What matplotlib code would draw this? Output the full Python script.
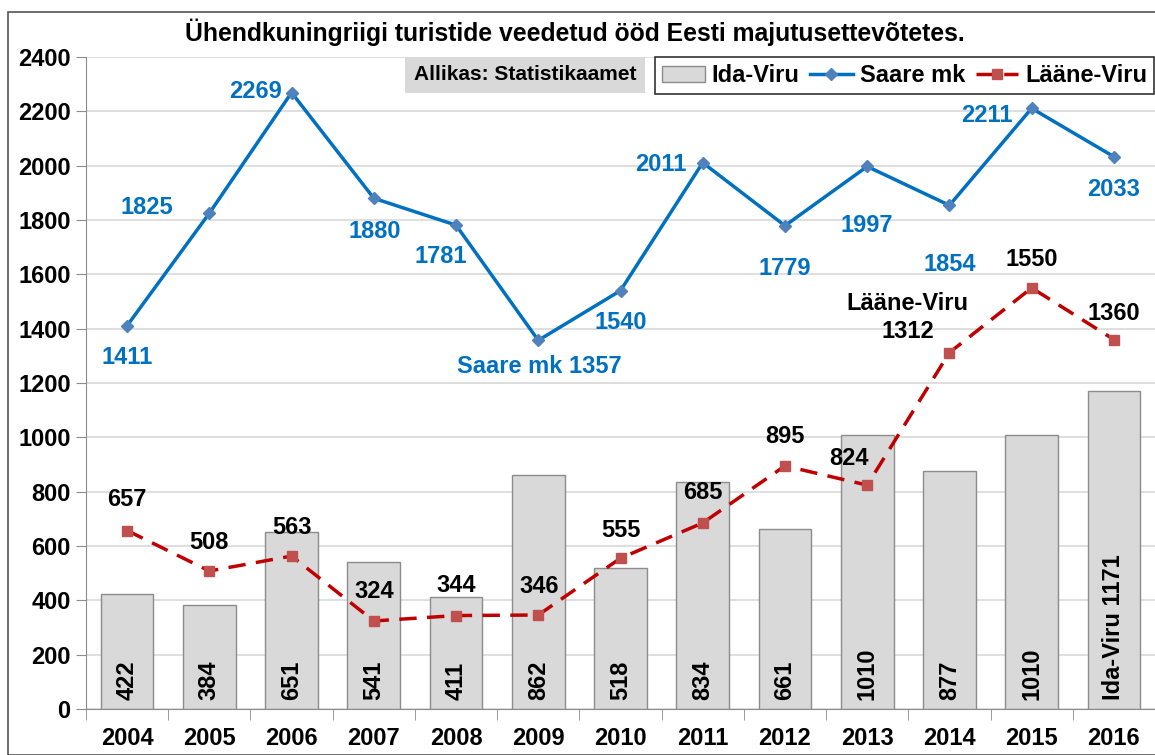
import matplotlib.pyplot as plt
import matplotlib.patches as patches
import numpy as np

plt.rcParams['font.family'] = ['Liberation Sans Narrow', 'Liberation Sans', 'DejaVu Sans']
plt.rcParams['font.weight'] = 'bold'

years = ['2004', '2005', '2006', '2007', '2008', '2009', '2010',
         '2011', '2012', '2013', '2014', '2015', '2016']
ida_viru = [422, 384, 651, 541, 411, 862, 518, 834, 661, 1010, 877, 1010, 1171]
saare = [1411, 1825, 2269, 1880, 1781, 1357, 1540, 2011, 1779, 1997, 1854, 2211, 2033]
laane_viru = [657, 508, 563, 324, 344, 346, 555, 685, 895, 824, 1312, 1550, 1360]

# label offsets in pixels (dx, dy), relative to the point
saare_off = [(0, -32), (-63, 6), (-36, 1), (1, -33), (-15, -31), (1, -26), (0, -32),
             (-42, -2), (0, -43), (0, -59), (0, -59), (-45, -7), (0, -33)]
laane_off = [(0, 31), (0, 28), (0, 29), (0, 29), (0, 30), (1, 29), (0, 28),
             (0, 30), (0, 29), (-18, 27), (-42, 35), (0, 28), (0, 26)]

FS = 17

fig = plt.figure(figsize=(11.55, 7.55), dpi=100)
ax = fig.add_axes([86 / 1155, 46 / 755, 1069 / 1155, 652 / 755])

x = np.arange(len(years))
bars = ax.bar(x, ida_viru, width=0.64, color='#d9d9d9', edgecolor='#8c8c8c', linewidth=1,
              label='Ida-Viru', zorder=2)
l1, = ax.plot(x, saare, color='#0070c0', lw=2.5, marker='D', ms=6, mfc='#4f81bd',
              mec='#4f81bd', label='Saare mk', zorder=3)
l2, = ax.plot(x, laane_viru, color='#c00000', lw=2.5, ls=(0, (5, 3)), marker='s', ms=7,
              mfc='#c0504d', mec='#c0504d', label='Lääne-Viru', zorder=3)

for i, v in enumerate(ida_viru):
    txt = str(v) if i < len(years) - 1 else 'Ida-Viru ' + str(v)
    ax.text(x[i], 32, txt, rotation=90, ha='center', va='bottom', fontsize=FS,
            fontweight='bold', color='black', zorder=4)

for i, v in enumerate(saare):
    txt = str(v) if i != 5 else 'Saare mk ' + str(v)
    dx, dy = saare_off[i]
    ax.annotate(txt, (x[i], v), xytext=(dx * 0.72, dy * 0.72), textcoords='offset points',
                ha='center', va='center', fontsize=FS, fontweight='bold', color='#0070c0',
                zorder=5)

for i, v in enumerate(laane_viru):
    txt = str(v) if i != 10 else 'Lääne-Viru\n' + str(v)
    dx, dy = laane_off[i]
    ax.annotate(txt, (x[i], v), xytext=(dx * 0.72, dy * 0.72), textcoords='offset points',
                ha='center', va='center', fontsize=FS, fontweight='bold', color='black',
                linespacing=1.25, zorder=5)

ax.set_xlim(-0.5, len(years) - 0.5)
ax.set_ylim(0, 2400)
ax.set_yticks(range(0, 2401, 200))
ax.set_xticks(x)
ax.set_xticklabels(years)
ax.set_xticks(np.arange(-0.5, len(years), 1), minor=True)
ax.tick_params(axis='x', which='major', length=0, pad=13, labelsize=FS)
ax.tick_params(axis='x', which='minor', length=8, color='#8c8c8c', direction='out')
ax.tick_params(axis='y', length=7, color='#8c8c8c', labelsize=FS, pad=4)
for lab in ax.get_xticklabels() + ax.get_yticklabels():
    lab.set_fontweight('bold')

ax.grid(axis='y', color='#d9d9d9', lw=1.2, zorder=0)
ax.set_axisbelow(True)
for s in ['top', 'right']:
    ax.spines[s].set_visible(False)
ax.spines['left'].set_color('#8c8c8c')
ax.spines['bottom'].set_color('#8c8c8c')

leg = ax.legend([bars, l1, l2], ['Ida-Viru', 'Saare mk', 'Lääne-Viru'],
                loc='upper right', bbox_to_anchor=(0.9995, 1.0), ncol=3, frameon=True,
                fancybox=False, edgecolor='black', handlelength=1.8,
                handletextpad=0.3, columnspacing=0.45, borderpad=0.3,
                borderaxespad=0.0, prop={'weight': 'bold', 'size': FS})
leg.get_frame().set_linewidth(1.2)

fig.text(525 / 1155, 1 - 75 / 755, 'Allikas: Statistikaamet', ha='center', va='center',
         fontsize=15, fontweight='bold',
         bbox=dict(boxstyle='square,pad=0.4', fc='#d9d9d9', ec='none'))

fig.text(575 / 1155, 1 - 32 / 755,
         'Ühendkuningriigi turistide veedetud ööd Eesti majutusettevõtetes.',
         ha='center', va='center', fontsize=17.8, fontweight='bold')

fig.patches.append(patches.Rectangle((8 / 1155, 0), 1.0, 1 - 12 / 755,
                                     transform=fig.transFigure, fill=False,
                                     ec='#555555', lw=1.2))

fig.savefig('out.png', dpi=100)
